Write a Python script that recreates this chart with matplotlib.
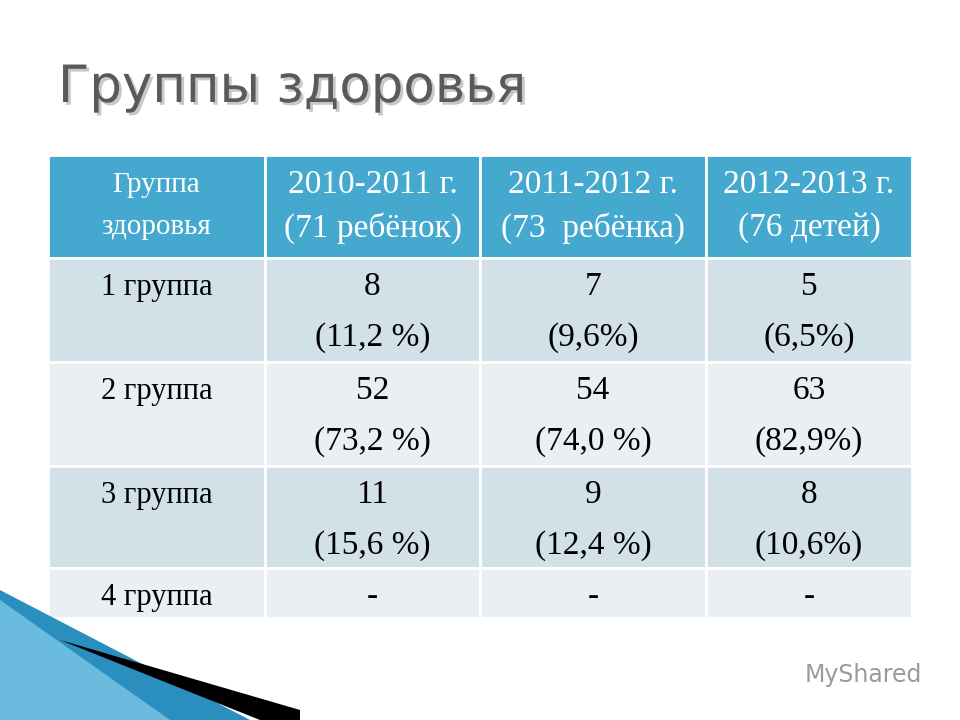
import matplotlib
matplotlib.use("Agg")
import matplotlib.pyplot as plt
import matplotlib.patheffects as pe
from matplotlib.patches import Rectangle, Polygon

# =========================================
# DATA
# =========================================
title = "Группы здоровья"
headers = ["Группа\nздоровья", "2010-2011 г.\n(71 ребёнок)", "2011-2012 г.\n(73  ребёнка)", "2012-2013 г.\n(76 детей)"]
row_labels = ["1 группа", "2 группа", "3 группа", "4 группа"]
counts = [["8", "7", "5"], ["52", "54", "63"], ["11", "9", "8"], ["-", "-", "-"]]
shares = [["(11,2 %)", "(9,6%)", "(6,5%)"], ["(73,2 %)", "(74,0 %)", "(82,9%)"],
          ["(15,6 %)", "(12,4 %)", "(10,6%)"], ["", "", ""]]

# =========================================
# LAYOUT (pixels)
# =========================================
col_x = [48, 265, 480, 706, 912]
row_y = [155, 258, 362, 466, 568, 618]
HEAD = "#45a9cf"
ROW_COLS = ["#d2e0e7", "#e9eff2"]
SERIF = "Liberation Serif"

fig = plt.figure(figsize=(9.6, 7.2), dpi=100)
ax = fig.add_axes([0, 0, 1, 1])
ax.set_xlim(0, 960)
ax.set_ylim(720, 0)
ax.axis("off")

# title with soft shadow
ax.text(58, 88, title, fontsize=37, color="#5a5a5a", family="DejaVu Sans", va="center",
        path_effects=[pe.withSimplePatchShadow(offset=(2, -2), shadow_rgbFace="#bbbbbb", alpha=0.8)])

# header
for j, h in enumerate(headers):
    x0, x1 = col_x[j], col_x[j + 1]
    ax.add_patch(Rectangle((x0, row_y[0]), x1 - x0, row_y[1] - row_y[0], fc=HEAD, ec="white", lw=2))
    fs = 21 if j == 0 else 24
    ax.text((x0 + x1) / 2, (row_y[0] + row_y[1]) / 2, h, fontsize=fs, color="white",
            family=SERIF, ha="center", va="center",
            linespacing=1.8 if j == 0 else 1.5)

# body
for i, lab in enumerate(row_labels):
    y0, y1 = row_y[i + 1], row_y[i + 2]
    fc = ROW_COLS[i % 2]
    for j in range(4):
        x0, x1 = col_x[j], col_x[j + 1]
        ax.add_patch(Rectangle((x0, y0), x1 - x0, y1 - y0, fc=fc, ec="white", lw=2))
    ax.text((col_x[0] + col_x[1]) / 2, y0 + 29, lab, fontsize=22, family=SERIF, ha="center", va="center")
    for j in range(3):
        cx = (col_x[j + 1] + col_x[j + 2]) / 2
        ax.text(cx, y0 + 29, counts[i][j], fontsize=24, family=SERIF, ha="center", va="center")
        if shares[i][j]:
            ax.text(cx, y0 + 80, shares[i][j], fontsize=24, family=SERIF, ha="center", va="center")

# decorative stripes bottom-left
ax.add_patch(Polygon([(0, 590), (0, 720), (250, 720)], fc="#2a8fbf", ec="none"))
ax.add_patch(Polygon([(0, 600), (0, 720), (170, 720)], fc="#7cc7e6", ec="none", alpha=0.8))
ax.add_patch(Polygon([(60, 640), (300, 710), (300, 720), (260, 720)], fc="black", ec="none"))

# watermark
ax.text(805, 675, "MyShared", fontsize=17, color="#9a9a9a", family="DejaVu Sans", va="center")

fig.savefig("out.png", dpi=100)
